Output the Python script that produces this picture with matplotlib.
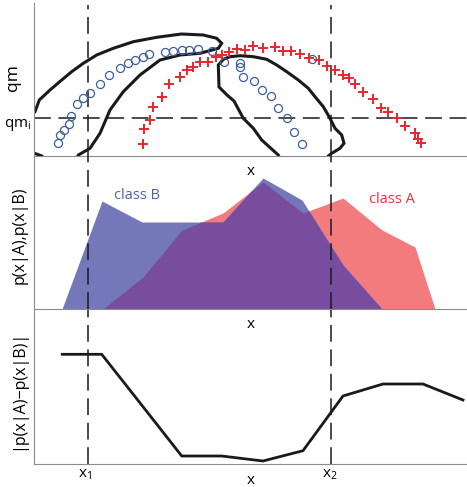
import numpy as np
import matplotlib
matplotlib.use("Agg")
import matplotlib.pyplot as plt

plt.rcParams['font.family'] = ['Open Sans', 'DejaVu Sans']

# decision points on x
x1 = 54
x2 = 297
qm_i = 38

# top panel: scatter of samples (x, qm)
blue_x = [24.3, 26, 30, 35, 37, 42.7, 49.3, 56, 66, 75.3, 86, 94.3, 101, 108.7, 115.3,
          131, 139.3, 147.7, 155.3, 164.3, 177.7, 190, 206, 206, 209.3, 220.3, 227.7,
          237, 243.7, 252.7, 260, 267.7, 277.7]
blue_y = [12.7, 21, 26, 32, 40, 52, 57.7, 62.7, 72, 81, 88.3, 92.7, 96, 99.3, 101.7,
          104.3, 105.3, 106, 106, 106.7, 105.3, 94.3, 92.7, 89.3, 79.3, 75.3, 66,
          60, 48.3, 38.3, 24.3, 11.7, 96.7]

red_x = [108.7, 110, 116, 119.3, 127.7, 135, 146, 152.7, 159.3, 166, 174.3, 182, 187.7,
         195.3, 202.7, 211, 218.7, 228.7, 241, 249.3, 256.7, 266, 275.3, 285.3, 293.3,
         301, 309.3, 315.3, 321, 329.3, 339.3, 347, 354.3, 362.7, 371, 381, 384.3, 386.7]
red_y = [12, 27, 36, 48.7, 58.7, 71.7, 79.3, 86, 89.3, 94.3, 94.3, 99.3, 101,
         104.3, 106.7, 106, 110, 108.3, 109.3, 105.3, 105, 102, 97.7, 96, 90.3,
         86, 81, 77.7, 72, 64.3, 56.7, 47.7, 44.3, 37.7, 30, 23.3, 16.7, 12.7]

# contour outlines of the two regions
blob1_x = [40, 44.3, 56, 66, 76, 89.3, 106, 126, 146, 166, 184.3, 187.7, 182.7, 169.3,
           147.7, 122.7, 99.3, 79.3, 62.7, 49.3, 37.7, 27.7, 16, 5.3, 1, -3, -3, 1, 8, 12, 40]
blob1_y = [-10, 1, 7.7, 22.7, 46, 64.3, 81, 96, 101, 102.7, 107.7, 112.7, 117.7, 121,
           122, 118.7, 114.3, 107.7, 101, 92.7, 84.3, 76, 66, 56, 44.3, 40, 4, 2.5, 0, -10, -10]

blob2_x = [248, 244.3, 227.7, 219.3, 209.3, 200, 193, 185, 184.3, 189.3, 196, 206, 219.3,
           232.7, 242.7, 252.7, 264.3, 274.3, 281, 289.3, 296, 301, 307.7, 310, 306,
           297.7, 294.3, 292, 248]
blob2_y = [-10, 1, 16, 27.7, 37.7, 55, 61, 69, 91, 96.7, 99.3, 100.3, 99.3,
           96.7, 91, 84.3, 76, 67.7, 59.3, 49.3, 37.7, 27.7, 21, 12.7, 7.7,
           2.7, 0, -10, -10]

# middle panel: class densities
xa = [69, 109, 148, 189, 229, 269, 309, 348, 381, 401]
pa = [0, 32, 79, 96, 127, 96, 111, 79, 62, 0]
xb = [28, 68, 108, 189, 229, 268, 309, 348]
pb = [0, 108, 87, 87, 131, 109, 44, 0]

# bottom panel: |p(x|A) - p(x|B)|
xd = [28.3, 67.7, 109, 147.7, 187.7, 229, 269, 309, 349, 389, 429]
dd = [109.7, 109.7, 57.3, 8, 8, 3, 13.3, 68, 80, 80, 64]

W, H = 467, 487
fig = plt.figure(figsize=(W / 100, H / 100), dpi=100)
ax1 = fig.add_axes([34 / W, 1 - 156 / H, 433 / W, 153 / H])
ax2 = fig.add_axes([34 / W, 1 - 309 / H, 433 / W, 153 / H])
ax3 = fig.add_axes([34 / W, 1 - 464 / H, 433 / W, 154 / H])

for ax in (ax1, ax2, ax3):
    ax.set_xlim(0, 433)
    ax.set_xticks([])
    ax.set_yticks([])
    ax.spines['top'].set_visible(False)
    ax.spines['right'].set_visible(False)
    for s in ('left', 'bottom'):
        ax.spines[s].set_color('#8c8c8c')
        ax.spines[s].set_linewidth(0.8)
    ax.patch.set_alpha(0)
ax1.set_ylim(0, 153)
ax2.set_ylim(0, 153)
ax3.set_ylim(0, 154)

dash = dict(color='#1a1a1a', lw=1.1, dashes=(11, 5))

# top panel
ax1.plot(blob1_x, blob1_y, color='#1a1a1a', lw=2.2, solid_joinstyle='miter')
ax1.plot(blob2_x, blob2_y, color='#1a1a1a', lw=2.2, solid_joinstyle='miter')
ax1.axhline(qm_i, **dash)
for xv in (x1, x2):
    ax1.axvline(xv, ymin=0, ymax=151 / 153, **dash)
ax1.plot(blue_x, blue_y, 'o', ms=5.8, mfc='none', mec='#3a5f9c', mew=0.9)
ax1.plot(red_x, red_y, '+', ms=6.8, mec='#e8252d', mew=1.4)
ax1.text(13 - 34, 78, 'qm', rotation=90, ha='center', va='center', fontsize=12.5, clip_on=False)
ax1.text(4 - 34, 29, r'qm$_\mathregular{i}$', ha='left', va='baseline', fontsize=11, clip_on=False)
ax1.text(0.5, -15.5 / 153, 'x', transform=ax1.transAxes, ha='center', va='center', fontsize=11)

# middle panel
grid = np.union1d(np.linspace(0, 433, 4000), np.union1d(xa, xb))
ga = np.interp(grid, xa, pa, left=0, right=0)
gb = np.interp(grid, xb, pb, left=0, right=0)
ax2.fill_between(xa, 0, pa, color='#f27b7d', lw=0)
ax2.fill_between(xb, 0, pb, color='#7478bb', lw=0)
ax2.fill_between(grid, 0, np.minimum(ga, gb), color='#784c9e', lw=0)
for xv in (x1, x2):
    ax2.axvline(xv, zorder=3, **dash)
ax2.text(103, 114, 'class B', color='#4f62b0', ha='center', va='center', fontsize=10.5)
ax2.text(358, 110, 'class A', color='#ec3040', ha='center', va='center', fontsize=10.5)
ax2.text(20 - 34, 74, 'p(x|A),p(x|B)', rotation=90, ha='center', va='center', fontsize=11.5, clip_on=False)
ax2.text(0.5, -16 / 153, 'x', transform=ax2.transAxes, ha='center', va='center', fontsize=11)

# bottom panel
ax3.plot(xd, dd, color='#1a1a1a', lw=2.0)
for xv in (x1, x2):
    ax3.axvline(xv, **dash)
ax3.text(18 - 34, 74, '|p(x|A)\u2212p(x|B)|', rotation=90, ha='center', va='center', fontsize=11.5, clip_on=False)
ax3.text(0.5, -17 / 154, 'x', transform=ax3.transAxes, ha='center', va='center', fontsize=11)
ax3.text(x1 - 3, -13, r'x$_\mathregular{1}$', ha='center', va='baseline', fontsize=11, clip_on=False)
ax3.text(x2 - 1.5, -13, r'x$_\mathregular{2}$', ha='center', va='baseline', fontsize=11, clip_on=False)

fig.savefig('out.png', dpi=100)
